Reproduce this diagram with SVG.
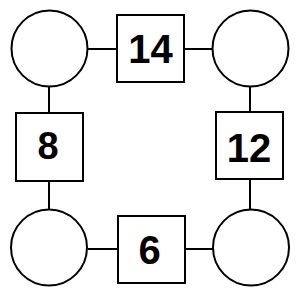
<svg xmlns="http://www.w3.org/2000/svg" width="300" height="300" viewBox="0 0 300 300">
<style>
.c{fill:#fff;stroke:#000;stroke-width:2}
.b{fill:#fff;stroke:#000;stroke-width:2}
.l{stroke:#000;stroke-width:2;fill:none}
.t{font-family:"Liberation Sans",Arial,sans-serif;font-weight:bold;font-size:40px;text-anchor:middle;fill:#000}
</style>
<rect width="300" height="300" fill="#fff"/>
<g id="connectors">
<line class="l" x1="87" y1="49" x2="116" y2="49"/>
<line class="l" x1="184" y1="49" x2="212" y2="49"/>
<line class="l" x1="49" y1="87" x2="49" y2="113"/>
<line class="l" x1="250" y1="87" x2="250" y2="112"/>
<line class="l" x1="49" y1="181" x2="49" y2="209"/>
<line class="l" x1="250" y1="179" x2="250" y2="209"/>
<line class="l" x1="88" y1="249" x2="118" y2="249"/>
<line class="l" x1="186" y1="249" x2="213" y2="249"/>
</g>
<g id="c_tl"><circle class="c" cx="49.5" cy="48.5" r="38"/></g>
<g id="c_tr"><circle class="c" cx="250.5" cy="48.5" r="38"/></g>
<g id="c_bl"><circle class="c" cx="49" cy="247.5" r="38"/></g>
<g id="c_br"><circle class="c" cx="251" cy="247.5" r="38"/></g>
<g id="b14"><rect class="b" x="117" y="15" width="67" height="67"/><text class="t" x="150.5" y="63">14</text></g>
<g id="b8"><rect class="b" x="16" y="113" width="67" height="68"/><text class="t" x="48" y="159" style="font-size:38px">8</text></g>
<g id="b12"><rect class="b" x="216" y="112" width="67" height="67"/><text class="t" x="249" y="162">12</text></g>
<g id="b6"><rect class="b" x="118" y="216" width="67" height="67"/><text class="t" x="149.5" y="264">6</text></g>
</svg>
